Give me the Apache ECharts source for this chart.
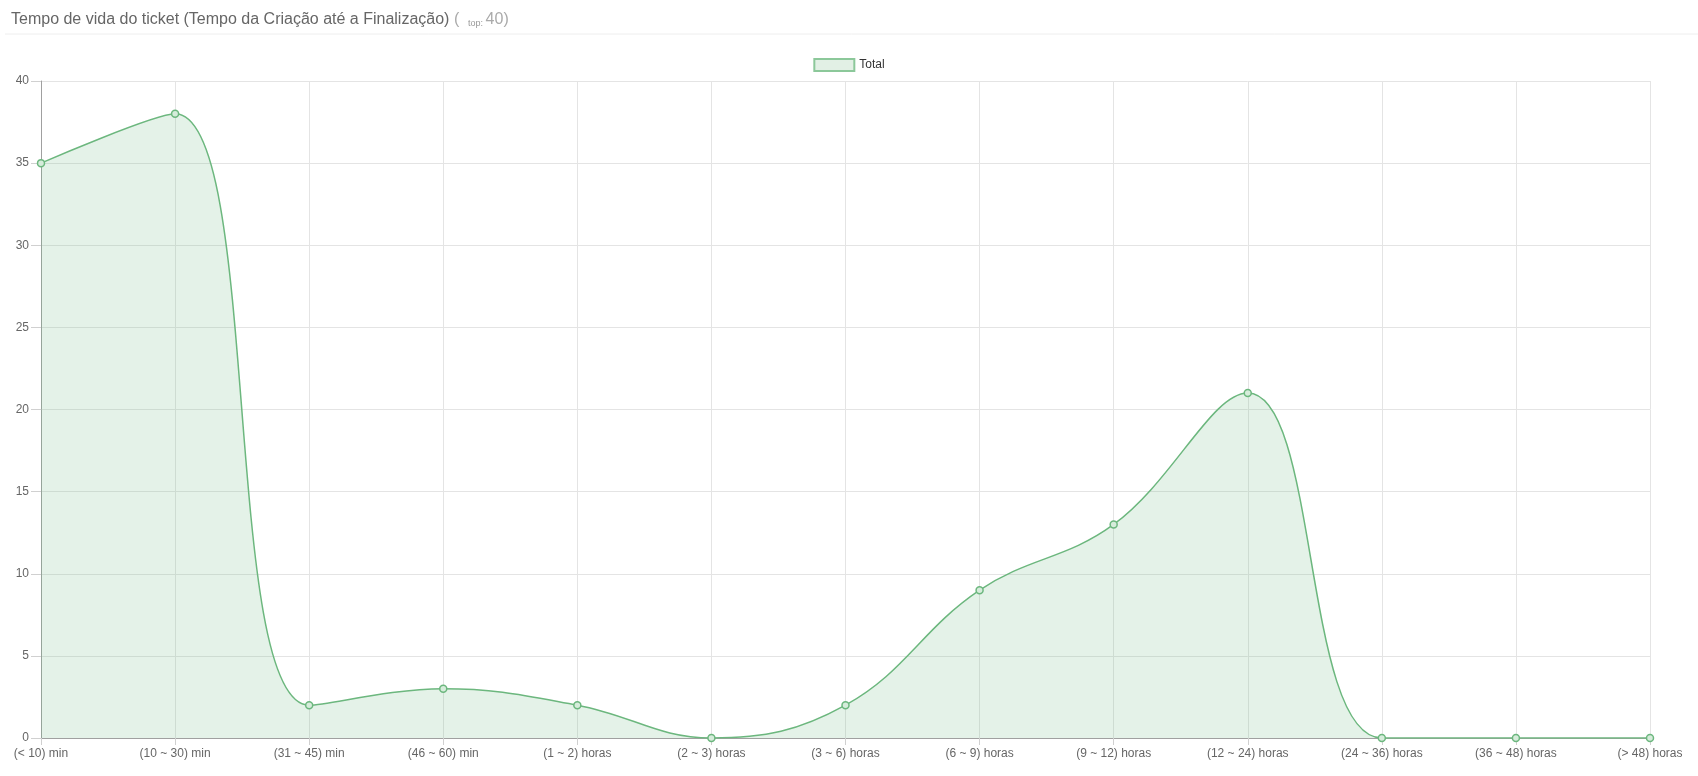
<!DOCTYPE html>
<html>
<head>
<meta charset="utf-8">
<script src="https://cdn.jsdelivr.net/npm/echarts@6/dist/echarts.min.js"></script>
<style>
html,body{margin:0;padding:0;background:#fff;}
#chart{width:1698px;height:776px;}
</style>
</head>
<body>
<div id="chart"></div>
<script>
const categories = ['(< 10) min','(10 ~ 30) min','(31 ~ 45) min','(46 ~ 60) min','(1 ~ 2) horas','(2 ~ 3) horas','(3 ~ 6) horas','(6 ~ 9) horas','(9 ~ 12) horas','(12 ~ 24) horas','(24 ~ 36) horas','(36 ~ 48) horas','(> 48) horas'];
const totalValues = [35, 38, 2, 3, 2, 0, 2, 9, 13, 21, 0, 0, 0];
const seriesName = 'Total';
const titleMain = 'Tempo de vida do ticket (Tempo da Criação até a Finalização) ';
const titleTop = 40;

const chart = echarts.init(document.getElementById('chart'));
const font = 'Arial, "Liberation Sans", sans-serif';
chart.setOption({
  animation: false,
  textStyle: { fontFamily: font },
  title: {
    left: 6, top: 7,
    text: '{m|' + titleMain + '}{p|(  }{s|top: }{n|' + titleTop + ')}',
    textStyle: {
      fontWeight: 'normal',
      rich: {
        m: { fontSize: 16, color: '#666', fontFamily: font, fontWeight: 'normal' },
        p: { fontSize: 16, color: '#aaa', fontFamily: font, fontWeight: 'normal' },
        s: { fontSize: 9, color: '#999', fontFamily: font, fontWeight: 'normal', verticalAlign: 'bottom', padding: [5,0,0,0] },
        n: { fontSize: 16, color: '#aaa', fontFamily: font, fontWeight: 'normal' }
      }
    }
  },
  graphic: [{
    type: 'line', shape: { x1: 5, y1: 34, x2: 1698, y2: 34 },
    style: { stroke: '#eeeeee', lineWidth: 1 }
  }],
  legend: {
    top: 58, left: 'center',
    itemWidth: 40, itemHeight: 12, itemGap: 10,
    icon: 'rect',
    padding: 0,
    textStyle: { fontSize: 12, color: '#333', fontFamily: font },
    data: [{ name: seriesName, itemStyle: { color: '#e2f0e5', borderColor: '#8cc89a', borderWidth: 2 } }]
  },
  grid: { left: 41, right: 48, top: 81, bottom: 38, containLabel: false },
  xAxis: {
    type: 'category', data: categories, boundaryGap: false,
    axisLine: { show: true, lineStyle: { color: '#a0a0a0' } },
    axisTick: { show: true, alignWithLabel: true, length: 7, lineStyle: { color: '#d0d0d0' } },
    axisLabel: { color: '#666', fontSize: 12, margin: 10, interval: 0 },
    splitLine: { show: true, lineStyle: { color: '#e4e4e4' } }
  },
  yAxis: {
    type: 'value', min: 0, max: 40, interval: 5,
    axisLine: { show: true, lineStyle: { color: '#a0a0a0' } },
    axisTick: { show: true, length: 10, lineStyle: { color: '#d0d0d0' } },
    axisLabel: { color: '#666', fontSize: 12, margin: 12 },
    splitLine: { show: true, lineStyle: { color: '#e4e4e4' } }
  },
  series: [{
    name: seriesName, type: 'line', data: totalValues,
    smooth: 0.4,
    symbol: 'circle', symbolSize: 7,
    lineStyle: { color: '#6cb77e', width: 1.5 },
    itemStyle: { color: '#d6ecdb', borderColor: '#6cb77e', borderWidth: 1.5 },
    areaStyle: { color: 'rgba(108,183,126,0.26)' }
  }]
});
</script>
</body>
</html>
